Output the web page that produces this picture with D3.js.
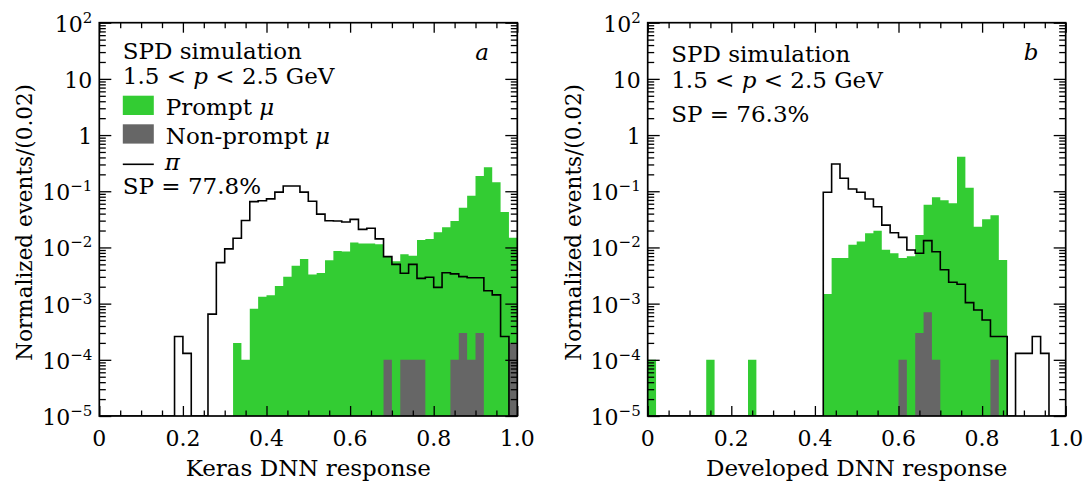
<!DOCTYPE html>
<html>
<head>
<meta charset="utf-8">
<script src="https://cdn.jsdelivr.net/npm/d3@7"></script>
<style>
  body { margin: 0; background: #fff; }
  text { font-family: "DejaVu Serif", serif; fill: #000; }
</style>
</head>
<body>
<svg id="chart" width="1085" height="483"></svg>
<script>
// Histograms: 50 bins of width 0.02 over the DNN response [0, 1]
const binWidth = 0.02;
const nBins = 50;

// Keras DNN response
const kerasPrompt = [
  0, 0, 0, 0, 0, 0, 0, 0, 0, 0,
  0, 0, 0, 0, 0, 0, 2.0e-4, 1.0e-4, 8.1e-4, 1.33e-3,
  1.41e-3, 2.06e-3, 3.0e-3, 4.7e-3, 6.2e-3, 3.3e-3, 3.5e-3, 5.9e-3, 8.6e-3, 8.5e-3,
  1.22e-2, 1.18e-2, 1.17e-2, 1.14e-2, 6.9e-3, 5.7e-3, 7.6e-3, 7.1e-3, 1.36e-2, 1.42e-2,
  1.86e-2, 2.28e-2, 2.95e-2, 5.1e-2, 8.3e-2, 0.187, 0.267, 0.144, 4.28e-2, 1.49e-2
];
const kerasNonPrompt = [
  0, 0, 0, 0, 0, 0, 0, 0, 0, 0,
  0, 0, 0, 0, 0, 0, 0, 0, 0, 0,
  0, 0, 0, 0, 0, 0, 0, 0, 0, 0,
  0, 0, 0, 0, 1e-4, 0, 1e-4, 1e-4, 1e-4, 0,
  0, 0, 1e-4, 3e-4, 1e-4, 3e-4, 0, 0, 0, 2e-4
];
const kerasPion = [
  0, 0, 0, 0, 0, 0, 0, 0, 0, 2.6e-4,
  1.3e-4, 0, 0, 6.5e-4, 5.36e-3, 9.44e-3, 1.46e-2, 3.02e-2, 6.53e-2, 6.76e-2,
  7.33e-2, 9.66e-2, 0.124, 0.124, 9.66e-2, 6.64e-2, 3.92e-2, 2.99e-2, 2.95e-2, 2.83e-2,
  3.16e-2, 2.10e-2, 2.19e-2, 1.42e-2, 6.85e-3, 5.0e-3, 3.47e-3, 5.0e-3, 2.82e-3, 2.95e-3,
  1.95e-3, 3.55e-3, 3.39e-3, 3.02e-3, 2.88e-3, 2.88e-3, 1.70e-3, 1.43e-3, 2.6e-4, 0
];

// Developed DNN response
const devPrompt = [
  1e-4, 0, 0, 0, 0, 0, 0, 1e-4, 0, 0,
  0, 0, 1e-4, 0, 0, 0, 0, 0, 0, 0,
  0, 1.49e-3, 6.5e-3, 6.5e-3, 1.12e-2, 1.27e-2, 1.79e-2, 1.98e-2, 9.1e-3, 7.9e-3,
  6.5e-3, 7.0e-3, 1.67e-2, 5.78e-2, 7.8e-2, 6.9e-2, 6.1e-2, 0.412, 0.116, 2.34e-2,
  3.16e-2, 3.76e-2, 5.98e-3, 0, 0, 0, 0, 0, 0, 0
];
const devNonPrompt = [
  0, 0, 0, 0, 0, 0, 0, 0, 0, 0,
  0, 0, 0, 0, 0, 0, 0, 0, 0, 0,
  0, 0, 0, 0, 0, 0, 0, 0, 0, 0,
  1e-4, 0, 3e-4, 7e-4, 1e-4, 0, 0, 0, 0, 0,
  0, 1e-4, 0, 0, 0, 0, 0, 0, 0, 0
];
const devPion = [
  0, 0, 0, 0, 0, 0, 0, 0, 0, 0,
  0, 0, 0, 0, 0, 0, 0, 0, 0, 0,
  0, 9.6e-2, 0.305, 0.170, 0.110, 9.6e-2, 7.3e-2, 5.3e-2, 2.5e-2, 1.83e-2,
  1.51e-2, 9.0e-3, 7.9e-3, 1.32e-2, 8.4e-3, 4.0e-3, 2.4e-3, 2.21e-3, 1.04e-3, 7.7e-4,
  5.1e-4, 2.6e-4, 2.6e-4, 0, 1.3e-4, 1.3e-4, 2.6e-4, 1.3e-4, 0, 0
];

// Axis ticks and labels
const xMajorTicks = [0, 0.2, 0.4, 0.6, 0.8, 1.0];
const xTickLabels = ["0", "0.2", "0.4", "0.6", "0.8", "1.0"];
const yMajorTicks = [1e-5, 1e-4, 1e-3, 1e-2, 1e-1, 1, 10, 100];
const yTickBase = ["10", "10", "10", "10", "10", "1", "10", "10"];
const yTickExp = ["\u22125", "\u22124", "\u22123", "\u22122", "\u22121", "", "", "2"];

const GREEN = "#33cc33";
const GREY = "#666666";

const svg = d3.select("#chart");
svg.append("rect").attr("width", 1085).attr("height", 483).attr("fill", "#fff");

const panelTop = 22.7, panelBottom = 416, panelWidth = 418;

function drawPanel(cfg) {
  const left = cfg.left, right = left + panelWidth;
  const x = d3.scaleLinear().domain([0, 1]).range([left, right]);
  const y = d3.scaleLog().domain([1e-5, 100]).range([panelBottom, panelTop]);
  const g = svg.append("g");

  const clipId = "clip" + cfg.id;
  g.append("clipPath").attr("id", clipId)
    .append("rect").attr("x", left).attr("y", panelTop)
    .attr("width", panelWidth).attr("height", panelBottom - panelTop);
  const plot = g.append("g").attr("clip-path", `url(#${clipId})`);

  // step points: value at the left edge of each bin, plus closing right edge
  const steps = vals => {
    const pts = vals.map((v, i) => ({ x: i * binWidth, v }));
    pts.push({ x: nBins * binWidth, v: vals[nBins - 1] });
    return pts;
  };
  const yv = v => (v > 0 ? y(v) : panelBottom);

  const area = d3.area().curve(d3.curveStepAfter)
    .x(d => x(d.x)).y0(panelBottom).y1(d => yv(d.v));
  const line = d3.line().curve(d3.curveStepAfter)
    .x(d => x(d.x)).y(d => yv(d.v));

  plot.append("path").attr("d", area(steps(cfg.prompt))).attr("fill", GREEN);
  plot.append("path").attr("d", area(steps(cfg.nonPrompt))).attr("fill", GREY);
  plot.append("path").attr("d", line(steps(cfg.pion)))
    .attr("fill", "none").attr("stroke", "#000").attr("stroke-width", 1.6);

  // ticks (all pointing inward)
  const xMinor = d3.range(1, 20).map(k => k * 0.05).filter(v => Math.abs(v * 5 - Math.round(v * 5)) > 1e-6);
  const yMinor = [];
  for (let e = -5; e <= 1; e++) for (let k = 2; k <= 9; k++) yMinor.push(k * Math.pow(10, e));

  const tickStyle = sel => {
    sel.select(".domain").remove();
    sel.selectAll("line").attr("stroke", "#000").attr("stroke-width", 1.3);
  };
  g.append("g").attr("transform", `translate(0,${panelBottom})`)
    .call(d3.axisBottom(x).tickValues(xMajorTicks).tickSize(-10).tickFormat("")).call(tickStyle);
  g.append("g").attr("transform", `translate(0,${panelBottom})`)
    .call(d3.axisBottom(x).tickValues(xMinor).tickSize(-5.5).tickFormat("")).call(tickStyle);
  g.append("g").attr("transform", `translate(0,${panelTop})`)
    .call(d3.axisTop(x).tickValues(xMajorTicks).tickSize(-10).tickFormat("")).call(tickStyle);
  g.append("g").attr("transform", `translate(0,${panelTop})`)
    .call(d3.axisTop(x).tickValues(xMinor).tickSize(-5.5).tickFormat("")).call(tickStyle);
  g.append("g").attr("transform", `translate(${left},0)`)
    .call(d3.axisLeft(y).tickValues(yMajorTicks).tickSize(-12).tickFormat("")).call(tickStyle);
  g.append("g").attr("transform", `translate(${left},0)`)
    .call(d3.axisLeft(y).tickValues(yMinor).tickSize(-6.5).tickFormat("")).call(tickStyle);
  g.append("g").attr("transform", `translate(${right},0)`)
    .call(d3.axisRight(y).tickValues(yMajorTicks).tickSize(-12).tickFormat("")).call(tickStyle);
  g.append("g").attr("transform", `translate(${right},0)`)
    .call(d3.axisRight(y).tickValues(yMinor).tickSize(-6.5).tickFormat("")).call(tickStyle);

  // frame
  g.append("rect").attr("x", left).attr("y", panelTop)
    .attr("width", panelWidth).attr("height", panelBottom - panelTop)
    .attr("fill", "none").attr("stroke", "#000").attr("stroke-width", 1.7);

  // x tick labels
  g.selectAll(".xl").data(xMajorTicks).join("text")
    .attr("x", d => x(d)).attr("y", 446)
    .attr("text-anchor", "middle").attr("font-size", 22)
    .text((d, i) => xTickLabels[i]);

  // y tick labels with superscript exponents
  yMajorTicks.forEach((v, i) => {
    const t = g.append("text")
      .attr("x", left - 7).attr("y", y(v) + 9)
      .attr("text-anchor", "end").attr("font-size", 22);
    t.append("tspan").text(yTickBase[i]);
    if (yTickExp[i]) {
      t.append("tspan").attr("dy", -9).attr("font-size", 15).text(yTickExp[i]);
    }
  });

  // axis titles
  g.append("text").attr("x", (left + right) / 2).attr("y", 476)
    .attr("text-anchor", "middle").attr("font-size", 23).text(cfg.xTitle);
  g.append("text")
    .attr("transform", `translate(${left - 67},${(panelTop + panelBottom) / 2 + 3}) rotate(-90)`)
    .attr("text-anchor", "middle").attr("font-size", 21.5)
    .text("Normalized events/(0.02)");

  // panel tag
  g.append("text").attr("x", left + 376).attr("y", 60)
    .attr("font-size", 23).attr("font-style", "italic").text(cfg.tag);

  // legend text block
  const tx = left + 23.5;
  const add = (yy, parts, xx = tx) => {
    const t = g.append("text").attr("x", xx).attr("y", yy).attr("font-size", 23);
    parts.forEach(p => {
      const s = t.append("tspan").text(p.t);
      if (p.i) s.attr("font-style", "italic");
    });
  };
  add(cfg.ys[0], [{ t: "SPD simulation" }]);
  add(cfg.ys[1], [{ t: "1.5 < " }, { t: "p", i: true }, { t: " < 2.5 GeV" }]);
  if (cfg.withEntries) {
    g.append("rect").attr("x", tx).attr("y", 95.7).attr("width", 31).attr("height", 19.3).attr("fill", GREEN);
    add(115, [{ t: "Prompt " }, { t: "\u03bc", i: true }], tx + 43);
    g.append("rect").attr("x", tx).attr("y", 124.3).attr("width", 31).attr("height", 19.3).attr("fill", GREY);
    add(143.5, [{ t: "Non-prompt " }, { t: "\u03bc", i: true }], tx + 43);
    g.append("line").attr("x1", tx).attr("x2", tx + 31).attr("y1", 164.3).attr("y2", 164.3)
      .attr("stroke", "#000").attr("stroke-width", 1.6);
    add(170, [{ t: "\u03c0", i: true }], tx + 42);
  }
  add(cfg.ys[2], [{ t: cfg.sp }]);
}

drawPanel({
  id: "a", left: 99.3, tag: "a", xTitle: "Keras DNN response",
  prompt: kerasPrompt, nonPrompt: kerasNonPrompt, pion: kerasPion,
  withEntries: true, ys: [59, 84, 194], sp: "SP = 77.8%"
});
drawPanel({
  id: "b", left: 647.7, tag: "b", xTitle: "Developed DNN response",
  prompt: devPrompt, nonPrompt: devNonPrompt, pion: devPion,
  withEntries: false, ys: [62, 88, 122], sp: "SP = 76.3%"
});
</script>
</body>
</html>
